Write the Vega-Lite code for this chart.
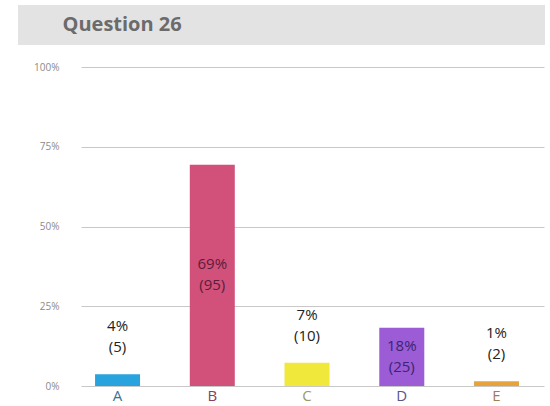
{
  "$schema": "https://vega.github.io/schema/vega-lite/v6.json",
  "padding": {"left": 18, "top": 5, "right": 5, "bottom": 0},
  "background": "white",
  "config": {"view": {"stroke": null}, "font": "Open Sans"},
  "spacing": 17,
  "vconcat": [
    {
      "width": 527,
      "height": 40,
      "view": {"fill": "#e3e3e3", "stroke": null},
      "data": {"values": [{"label": "Question 26"}]},
      "mark": {"type": "text", "align": "left", "baseline": "middle", "dx": -219, "fontSize": 20, "fontWeight": "bold", "color": "#6b6b6b", "font": "Open Sans"},
      "encoding": {"text": {"field": "label"}}
    },
    {
      "spacing": 14,
      "hconcat": [
        {
          "width": 1,
          "height": 319,
          "data": {"values": [{"blank": ""}]},
          "mark": {"type": "text"},
          "encoding": {"text": {"field": "blank"}}
        },
        {
          "width": 463,
          "height": 319,
          "data": {"values": [
            {"option": "A", "pct": 3.65, "count": 5},
            {"option": "B", "pct": 69.34, "count": 95},
            {"option": "C", "pct": 7.30, "count": 10},
            {"option": "D", "pct": 18.25, "count": 25},
            {"option": "E", "pct": 1.46, "count": 2}
          ]},
          "transform": [
            {"calculate": "round(datum.pct) + '%\\n(' + datum.count + ')'", "as": "label"},
            {"calculate": "datum.pct / 2", "as": "mid"}
          ],
          "encoding": {
            "x": {
              "field": "option", "type": "nominal", "sort": null,
              "scale": {"paddingInner": 0.525, "paddingOuter": 0.206, "align": 0.36},
              "axis": {
                "title": null, "domain": false, "ticks": false, "grid": false, "labelAngle": 0,
                "labelFontSize": 15, "labelPadding": 2, "labelFont": "Open Sans",
                "labelColor": {"expr": "datum.value=='A' ? '#3a7299' : datum.value=='B' ? '#8c3d62' : datum.value=='C' ? '#9a9a62' : datum.value=='D' ? '#5c5488' : '#a07d52'"}
              }
            }
          },
          "layer": [
            {
              "mark": {"type": "bar"},
              "encoding": {
                "y": {
                  "field": "pct", "type": "quantitative",
                  "scale": {"domain": [0, 100]},
                  "axis": {
                    "values": [0, 25, 50, 75, 100],
                    "labelExpr": "datum.value + '%'",
                    "domain": false, "ticks": false, "grid": true, "gridColor": "#c8c8c8",
                    "labelColor": "#8a8a8a", "labelFontSize": 10, "labelPadding": 22,
                    "title": null
                  }
                },
                "color": {
                  "field": "option", "type": "nominal",
                  "scale": {"domain": ["A", "B", "C", "D", "E"], "range": ["#29a3de", "#d1517b", "#f0e83a", "#9b5cd6", "#e8a23c"]},
                  "legend": null
                }
              }
            },
            {
              "transform": [{"filter": "datum.pct < 15"}],
              "mark": {"type": "text", "baseline": "middle", "lineBreak": "\n", "lineHeight": 21, "fontSize": 15, "dy": -48, "color": "#222222", "font": "Open Sans"},
              "encoding": {
                "y": {"field": "pct", "type": "quantitative"},
                "text": {"field": "label"}
              }
            },
            {
              "transform": [{"filter": "datum.pct >= 15"}],
              "mark": {"type": "text", "baseline": "middle", "lineBreak": "\n", "lineHeight": 21, "fontSize": 15, "dy": -11, "font": "Open Sans"},
              "encoding": {
                "y": {"field": "mid", "type": "quantitative"},
                "text": {"field": "label"},
                "color": {"condition": {"test": "datum.option == 'B'", "value": "#5c1c3a"}, "value": "#3c2470"}
              }
            }
          ]
        }
      ]
    }
  ]
}
